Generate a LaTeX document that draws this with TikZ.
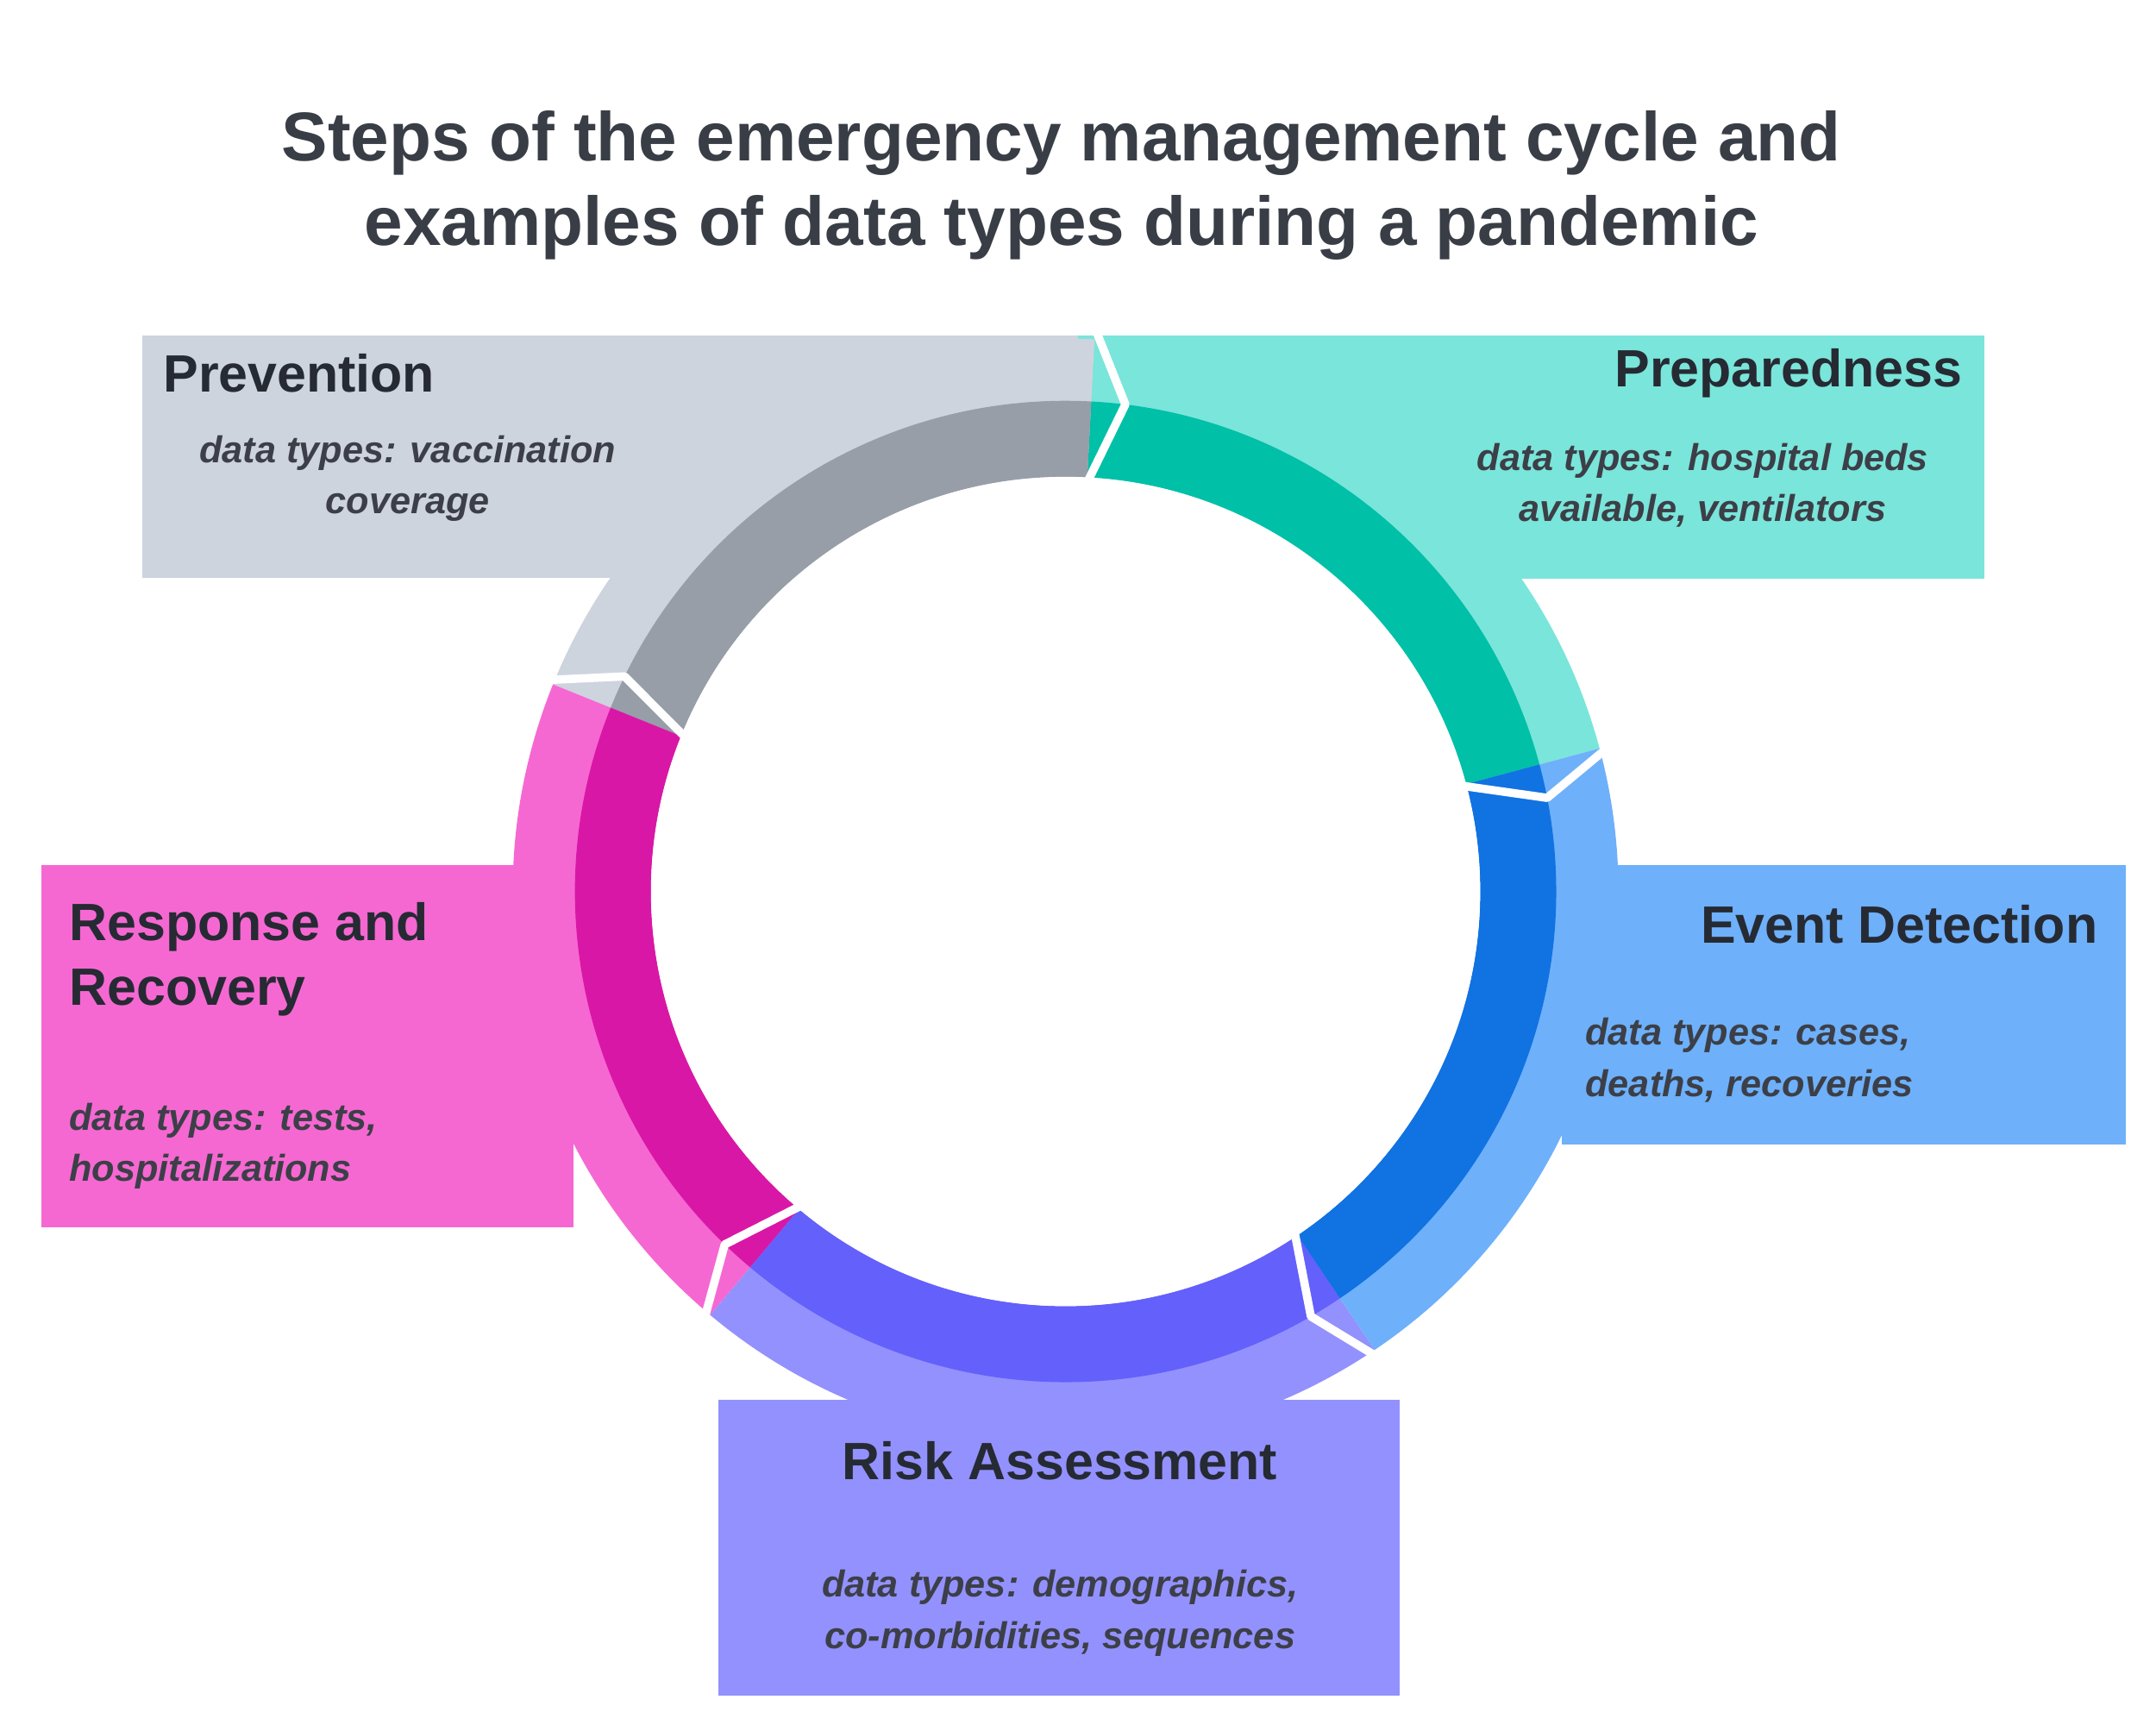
\documentclass[tikz,border=0pt]{standalone}
\usepackage{fontspec}
\setmainfont{Liberation Sans}
\definecolor{prevL}{HTML}{CDD4DE}\definecolor{prevD}{HTML}{979EA8}
\definecolor{prepL}{HTML}{7AE5DA}\definecolor{prepD}{HTML}{00C0A8}
\definecolor{evL}{HTML}{6EB0FA}\definecolor{evD}{HTML}{1172E2}
\definecolor{riskL}{HTML}{9391FD}\definecolor{riskD}{HTML}{6460FB}
\definecolor{respL}{HTML}{F568D2}\definecolor{respD}{HTML}{D917A6}
\definecolor{titlec}{HTML}{393E46}\definecolor{headc}{HTML}{262A33}
\tikzset{
 head/.style={font=\fontsize{38}{47}\selectfont\bfseries, text=headc, inner sep=0pt},
 dat/.style={font=\fontsize{27}{37}\selectfont\bfseries\itshape, text=headc!90, inner sep=0pt},
 sep/.style={white, line width=6pt, line join=round}
}
\newcommand{\sector}[5]{\fill[#1] (771,607) ++(#2:#4) arc (#2:#3:#4) -- ($(771,607)+(#3:#5)$) arc (#3:#2:#5) -- cycle;}
\usetikzlibrary{calc}
\begin{document}
\begin{tikzpicture}[x=1pt,y=1pt]
\useasboundingbox[fill=white] (0,0) rectangle (1560,1252);
% light boxes
\fill[prevL] (103,834) rectangle (780,1009);
\fill[prepL] (780,833) rectangle (1436,1009);
\fill[evL] (1130,424) rectangle (1538,626);
\fill[riskL] (520,25) rectangle (1013,239);
\fill[respL] (30,364) rectangle (415,626);
% light bands
\sector{prepL}{15}{87}{300}{400}
\sector{prevL}{87}{158}{300}{400}
\sector{respL}{158}{230}{300}{400}
\sector{riskL}{230}{304}{300}{400}
\sector{evL}{304}{375}{300}{400}
% dark bands
\sector{prepD}{15}{87}{300}{355}
\sector{prevD}{87}{158}{300}{355}
\sector{respD}{158}{230}{300}{355}
\sector{riskD}{230}{304}{300}{355}
\sector{evD}{304}{375}{300}{355}
\fill[white] (771,607) circle (300);
% separators
\foreach \a in {15,87,158,230,304}{
 \draw[sep] ($(771,607)+(\a:296)$) -- ($(771,607)+(\a-4:355)$) -- ($(771,607)+(\a:408)$);
}
% title
\node[font=\fontsize{50}{61}\selectfont\bfseries, text=titlec, align=center] (title) at (768,1118) {Steps of the emergency management cycle and\\examples of data types during a pandemic};
% texts
\node[head, anchor=west] (h1) at (118,982) {Prevention};
\node[dat, align=center] (d1) at (295,906) {data types: vaccination\\coverage};
\node[head, anchor=east] (h2) at (1420,982) {Preparedness};
\node[dat, align=center] (d2) at (1232,901) {data types: hospital beds\\available, ventilators};
\node[head, anchor=east] (h3) at (1518,583) {Event Detection};
\node[dat, align=left, anchor=west] (d3) at (1147,485) {data types: cases,\\deaths, recoveries};
\node[head, anchor=center] (h4) at (767,195) {Risk Assessment};
\node[dat, align=center] (d4) at (767,85) {data types: demographics,\\co-morbidities, sequences};
\node[head, anchor=west, align=left] (h5) at (50,558) {Response and\\Recovery};
\node[dat, align=left, anchor=west] (d5) at (50,423) {data types: tests,\\hospitalizations};
\end{tikzpicture}
\end{document}
